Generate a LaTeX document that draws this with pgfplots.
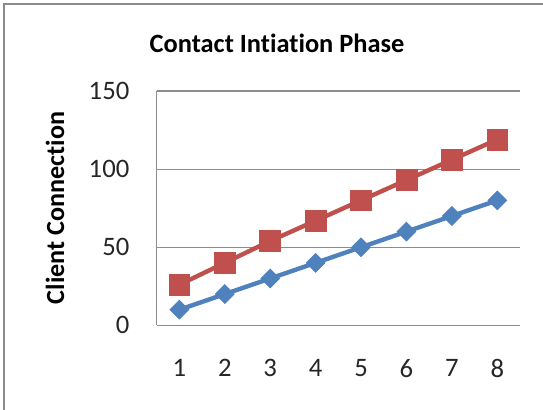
\documentclass[border=0pt]{standalone}
\usepackage{fontspec}
\setmainfont{Carlito}[Ligatures=NoCommon]
\usepackage{pgfplots}
\pgfplotsset{compat=1.18}
\definecolor{exred}{HTML}{C0504D}
\definecolor{exblue}{HTML}{4F81BD}
\definecolor{gridgray}{HTML}{8C8C8C}
\begin{document}
\begin{tikzpicture}[x=0.75pt,y=0.75pt]
\useasboundingbox (0,0) rectangle (543,410);
\draw[gridgray, line width=1.5pt] (4,0) -- (4,406) -- (543,406);
\node[font=\fontsize{19.8}{22}\selectfont\bfseries] at (277,367) {Contact Intiation Phase};
\node[font=\fontsize{19.6}{22}\selectfont\bfseries, rotate=90] at (55,202) {Client Connection};
\begin{axis}[
  at={(117.5pt,63.5pt)}, anchor=south west,
  scale only axis, width=272.5pt, height=175.7pt,
  xmin=0.5, xmax=8.5, ymin=0, ymax=150,
  xtick={1,2,3,4,5,6,7,8}, ytick={0,50,100,150},
  axis x line*=bottom, axis y line*=left,
  axis line style={gridgray, line width=0.9pt, -},
  ymajorgrids, grid style={gridgray, line width=0.9pt},
  major tick length=0pt,
  /pgf/number format/assume math mode=true,
  ticklabel style={font=\fontsize{20}{22}\selectfont, text=black!85},
  yticklabel style={xshift=-17pt},
  xticklabel style={yshift=-22pt},
  clip=false,
]
\addplot[exblue, line width=3.3pt, mark=square*, mark size=5pt, mark options={fill=exblue, draw=exblue, line width=0.5pt, rotate=45}] coordinates {
(1,10) (2,20) (3,30) (4,40) (5,50) (6,60) (7,70) (8,80)};
\addplot[exred, line width=3.3pt, mark=square*, mark size=7.8pt, mark options={fill=exred, draw=exred, line width=0.5pt}] coordinates {
(1,26) (2,40) (3,54) (4,67) (5,80) (6,93) (7,106) (8,119)};
\end{axis}
\end{tikzpicture}
\end{document}
